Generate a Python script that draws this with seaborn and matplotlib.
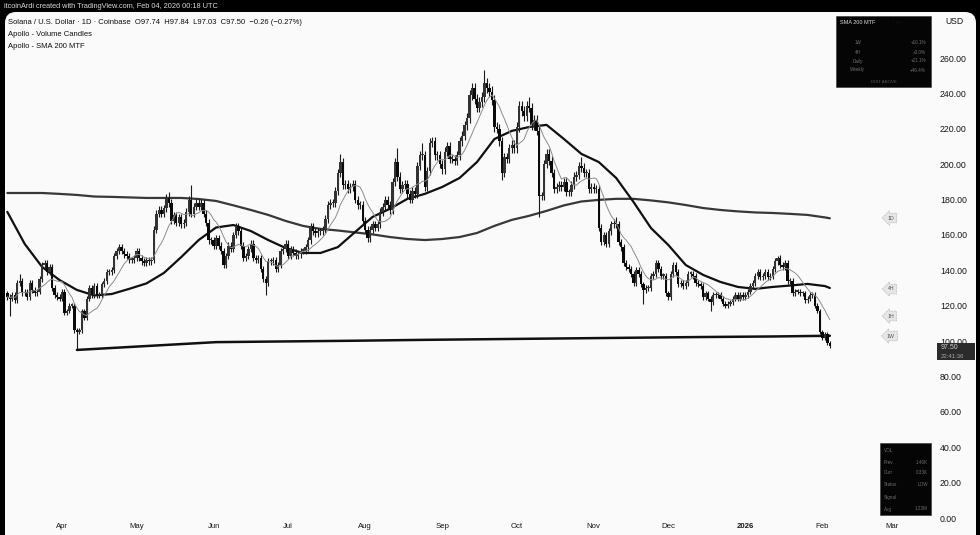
import numpy as np
import pandas as pd
import matplotlib
matplotlib.use("Agg")
import matplotlib.pyplot as plt
from matplotlib.patches import FancyBboxPatch, Rectangle
import seaborn as sns

# ── DATA ────────────────────────────────────────────────────
# daily closes, SOL/USD, 10 Mar 2025 -> 4 Feb 2026
closes_mar = [125, 124, 126, 123, 133, 134, 127, 128, 125, 133, 129, 127, 128, 135,
              143, 144, 139, 142, 130, 126, 125, 124]
closes_apr = [128, 116, 117, 120, 120, 106, 105, 106, 117, 113, 124, 130, 126, 131, 126,
              126, 132, 134, 139, 139, 140, 148, 151, 153, 151, 149, 148, 146, 146, 147]
closes_may = [151, 147, 145, 144, 146, 145, 146, 163, 172, 174, 172, 175, 181, 178, 168,
              171, 167, 170, 166, 167, 173, 180, 172, 176, 178, 176, 178, 172, 167, 157, 157]
closes_jun = [154, 158, 154, 151, 143, 148, 154, 152, 160, 165, 162, 154, 147, 148, 152,
              155, 147, 146, 147, 141, 135, 133, 145, 145, 146, 141, 143, 151, 152, 155]
closes_jul = [148, 152, 150, 148, 149, 151, 151, 153, 157, 165, 162, 161, 162, 162, 163,
              169, 177, 178, 178, 185, 195, 201, 188, 189, 186, 187, 189, 180, 177, 177, 168]
closes_aug = [163, 158, 163, 166, 164, 166, 173, 176, 180, 177, 174, 190, 201, 193, 186,
              188, 189, 183, 180, 185, 183, 199, 205, 205, 187, 196, 212, 213, 205, 205, 200]
closes_sep = [197, 207, 210, 203, 203, 202, 205, 213, 216, 222, 226, 239, 243, 237, 232,
              235, 238, 246, 243, 241, 236, 221, 220, 213, 195, 204, 203, 209, 211, 209]
closes_oct = [221, 233, 230, 227, 233, 232, 222, 225, 219, 182, 182, 200, 206, 202, 195,
              186, 187, 188, 187, 190, 184, 184, 188, 193, 194, 199, 198, 195, 195, 186, 187]
closes_nov = [186, 186, 164, 156, 160, 155, 162, 166, 167, 166, 156, 153, 144, 142, 141,
              138, 133, 140, 138, 132, 129, 130, 130, 137, 138, 144, 141, 137, 137, 127]
closes_dec = [125, 138, 143, 139, 132, 133, 131, 133, 138, 138, 137, 133, 132, 131, 125,
              127, 124, 122, 126, 126, 126, 124, 121, 120, 121, 122, 124, 126, 124, 126, 125]
closes_jan = [126, 128, 131, 133, 137, 139, 136, 137, 139, 136, 137, 141, 145, 147, 143,
              142, 144, 134, 134, 127, 128, 128, 127, 127, 123, 124, 126, 126, 120, 117, 105]
closes_feb = [102, 104, 99, 97.5]
first_open = 127.0

# wick extremes that stand out in the picture
high_marks = {"2025-03-15": 138, "2025-05-14": 184, "2025-05-23": 188, "2025-07-22": 206,
              "2025-08-14": 209, "2025-08-24": 212, "2025-09-18": 253, "2025-10-06": 238,
              "2025-10-27": 204, "2025-11-10": 170, "2026-01-14": 148}
low_marks = {"2025-03-11": 114, "2025-04-07": 95, "2025-06-22": 126, "2025-09-25": 191,
             "2025-10-10": 170, "2025-11-21": 121, "2025-12-18": 117}

# SMA 200 MTF lines, one reading per week
line_start, line_weeks, line_end = "2025-03-10", 48, "2026-02-04"
sma_4h = [173.0, 154.9, 141.9, 134.5, 128.9, 125.8, 126.6, 129.5, 132.6, 138.5,
          147.5, 157.1, 164.2, 165.6, 162.2, 157.1, 152.6, 149.8, 149.8, 153.1,
          161.7, 170.2, 174.8, 180.4, 183.2, 187.1, 192.2, 201.2, 214.2, 218.8,
          221.0, 222.2, 214.2, 205.8, 201.2, 192.2, 178.6, 163.9, 154.3, 143.0,
          137.4, 133.4, 130.6, 129.5, 130.6, 131.4, 132.3, 131.1, 130.0]
sma_1d = [183.7, 183.7, 183.7, 183.2, 182.6, 181.7, 181.5, 181.2, 180.9, 180.9,
          180.9, 180.3, 179.2, 176.7, 174.1, 171.3, 167.9, 165.1, 163.4, 162.5,
          161.4, 160.3, 158.8, 157.7, 157.1, 157.7, 158.8, 161.1, 165.1, 168.5,
          170.8, 173.6, 176.7, 178.9, 179.8, 180.4, 180.4, 179.5, 178.4, 176.9,
          175.2, 174.1, 173.3, 172.7, 172.4, 171.9, 171.3, 169.9, 169.4]
sma_1w_dates = ["2025-04-07", "2025-05-05", "2025-06-02", "2025-06-30", "2025-07-28",
                "2025-08-25", "2025-09-22", "2025-10-20", "2025-11-17", "2025-12-15",
                "2026-01-12", "2026-02-04"]
sma_1w = [95.0, 97.2, 99.4, 99.8, 100.2, 100.7, 101.1, 101.5, 101.9, 102.3, 102.6, 103.0]
sma_1h_window = 10   # ~200 hourly bars

price_ticks = [0, 20, 40, 60, 80, 100, 120, 140, 160, 180, 200, 220, 240, 260]
month_labels = ["Apr", "May", "Jun", "Jul", "Aug", "Sep", "Oct", "Nov", "Dec", "2026", "Feb", "Mar"]

# ── PREP ────────────────────────────────────────────────────
closes = np.array(closes_mar + closes_apr + closes_may + closes_jun + closes_jul + closes_aug
                  + closes_sep + closes_oct + closes_nov + closes_dec + closes_jan + closes_feb, float)
dates = pd.date_range("2025-03-10", periods=len(closes), freq="D")
opens = np.r_[first_open, closes[:-1]]
highs = pd.Series(np.maximum(opens, closes) * 1.012, index=dates)
lows = pd.Series(np.minimum(opens, closes) * 0.988, index=dates)
for d, v in high_marks.items():
    highs[pd.Timestamp(d)] = v
for d, v in low_marks.items():
    lows[pd.Timestamp(d)] = v
sma_1h = pd.Series(closes, index=dates).rolling(sma_1h_window, min_periods=1).mean()

line_dates = list(pd.date_range(line_start, periods=line_weeks, freq="7D")) + [pd.Timestamp(line_end)]

# ── STYLE ───────────────────────────────────────────────────
sns.set_theme(style="white")
plt.rcParams["font.family"] = ["Liberation Sans", "DejaVu Sans"]

BG = "#fafafa"
INK = "#161616"
W, H = 980, 535

def fx(x):
    return x / W

def fy(y):
    return 1 - y / H

fig = plt.figure(figsize=(W / 100, H / 100), dpi=100)
fig.patch.set_facecolor("black")
panel = FancyBboxPatch((0.05, -0.3), 9.71, 5.23 + 0.3,
                       boxstyle="round,pad=0,rounding_size=0.11",
                       transform=fig.dpi_scale_trans, fc=BG, ec="none", zorder=-5)
fig.add_artist(panel)

ax = fig.add_axes([fx(6), fy(520), (934 - 6) / W, (520 - 12) / H])
ax.set_facecolor("none")

# MTF lines
sns.lineplot(x=line_dates, y=sma_1d, ax=ax, color="#383838", linewidth=1.6, zorder=2)
sns.lineplot(x=pd.to_datetime(sma_1w_dates), y=sma_1w, ax=ax, color="#101010", linewidth=1.8, zorder=2)
sns.lineplot(x=line_dates, y=sma_4h, ax=ax, color="#101010", linewidth=1.6, zorder=2)

# candles
up = closes >= opens
ax.vlines(dates, lows.values, highs.values, color="#1a1a1a", linewidth=0.8, zorder=3)
ax.bar(dates, np.maximum(np.abs(closes - opens), 0.8), bottom=np.minimum(opens, closes),
       width=0.95, color=np.where(up, "#333333", "#0a0a0a"), linewidth=0, zorder=3)

sns.lineplot(x=dates, y=sma_1h.values, ax=ax, color="#8c8c8c", linewidth=0.7, zorder=4)

# axes
apr1 = pd.Timestamp("2025-04-01")
ax.set_xlim(apr1 - pd.Timedelta(days=56 / 2.485), apr1 + pd.Timedelta(days=872 / 2.485))
ax.set_ylim(-1.13, 286.0)
ax.yaxis.tick_right()
ax.set_yticks(price_ticks)
ax.set_yticklabels([f"{v:.2f}" for v in price_ticks])
ax.set_xticks(pd.date_range("2025-04-01", periods=len(month_labels), freq="MS"))
ax.set_xticklabels(month_labels)
ax.tick_params(axis="y", length=0, pad=4.3, labelsize=6.3, labelcolor=INK)
ax.tick_params(axis="x", length=0, pad=2, labelsize=5.6, labelcolor=INK)
for lab in ax.get_xticklabels():
    if lab.get_text() == "2026":
        lab.set_fontweight("bold")
ax.set_xlabel("")
ax.set_ylabel("")
for s in ax.spines.values():
    s.set_visible(False)

# header texts
fig.text(fx(4), fy(6), "itcoinArdi created with TradingView.com, Feb 04, 2026 00:18 UTC",
         fontsize=5.3, color="#d8d8d8", va="center")
fig.text(fx(8), fy(22), "Solana / U.S. Dollar \u00b7 1D \u00b7 Coinbase  O97.74  H97.84  L97.03  C97.50  \u22120.26 (\u22120.27%)",
         fontsize=5.5, color="#0f0f0f", va="center")
fig.text(fx(8), fy(34), "Apollo - Volume Candles", fontsize=5.5, color="#0f0f0f", va="center")
fig.text(fx(8), fy(46), "Apollo - SMA 200 MTF", fontsize=5.5, color="#0f0f0f", va="center")
fig.text(fx(945), fy(22), "USD", fontsize=6.2, color=INK, va="center")

# SMA 200 MTF table (top right)
fig.add_artist(Rectangle((fx(836), fy(87)), 95 / W, 71 / H, transform=fig.transFigure,
                         fc="#050505", ec="#333333", lw=0.4, zorder=2))
fig.text(fx(840), fy(22), "SMA 200 MTF", fontsize=4, color="#dddddd", va="center", zorder=3)
fig.text(fx(893), fy(22), "\u00b7 \u00b7 \u00b7", fontsize=3.5, color="#555555", va="center", zorder=3)
for yy, lab, val in zip([43, 52, 61, 70], ["1W", "4H", "Daily", "Weekly"],
                        ["+16.1%", "+3.0%", "+21.1%", "+46.4%"]):
    fig.text(fx(858), fy(yy), lab, fontsize=3.3, color="#6f6f6f", ha="center", va="center", zorder=3)
    fig.text(fx(926), fy(yy), val, fontsize=3.3, color="#6f6f6f", ha="right", va="center", zorder=3)
fig.text(fx(884), fy(82), "DIST ABOVE", fontsize=3.2, color="#5a5a5a", ha="center", va="center", zorder=3)

# volume table (bottom right)
fig.add_artist(Rectangle((fx(880), fy(515)), 51 / W, 72 / H, transform=fig.transFigure,
                         fc="#050505", ec="#333333", lw=0.4, zorder=2))
for yy, lab, val in zip([451, 462, 473, 485, 497, 509],
                        ["VOL", "Prev", "Curr", "Status", "Signal", "Avg"],
                        ["", "1.46K", "0.33K", "LOW", "", "1.23M"]):
    fig.text(fx(884), fy(yy), lab, fontsize=3.3, color="#6f6f6f", va="center", zorder=3)
    fig.text(fx(928), fy(yy), val, fontsize=3.3, color="#6f6f6f", ha="right", va="center", zorder=3)

# MTF tags on the right edge
for yy, lab in zip([218, 289, 316, 336], ["1D", "4H", "1H", "1W"]):
    fig.text(fx(891), fy(yy), lab, fontsize=3.8, color="#555555", ha="center", va="center", zorder=3,
             bbox=dict(boxstyle="larrow,pad=0.45", fc="#e6e6e6", ec="#b0b0b0", lw=0.4, ls="--"))

# last price box (sits over the 100.00 label as in the screenshot)
fig.add_artist(Rectangle((fx(937), fy(360)), 38 / W, 17 / H, transform=fig.transFigure,
                         fc="#2b2b2b", ec="none", zorder=2))
fig.text(fx(941), fy(347.5), "97.50", fontsize=5, color="#cfcfcf", va="center", zorder=3)
fig.text(fx(941), fy(356), "22:41:36", fontsize=4.3, color="#a8a8a8", va="center", zorder=3)

fig.savefig("out.png", dpi=100, facecolor=fig.get_facecolor())
